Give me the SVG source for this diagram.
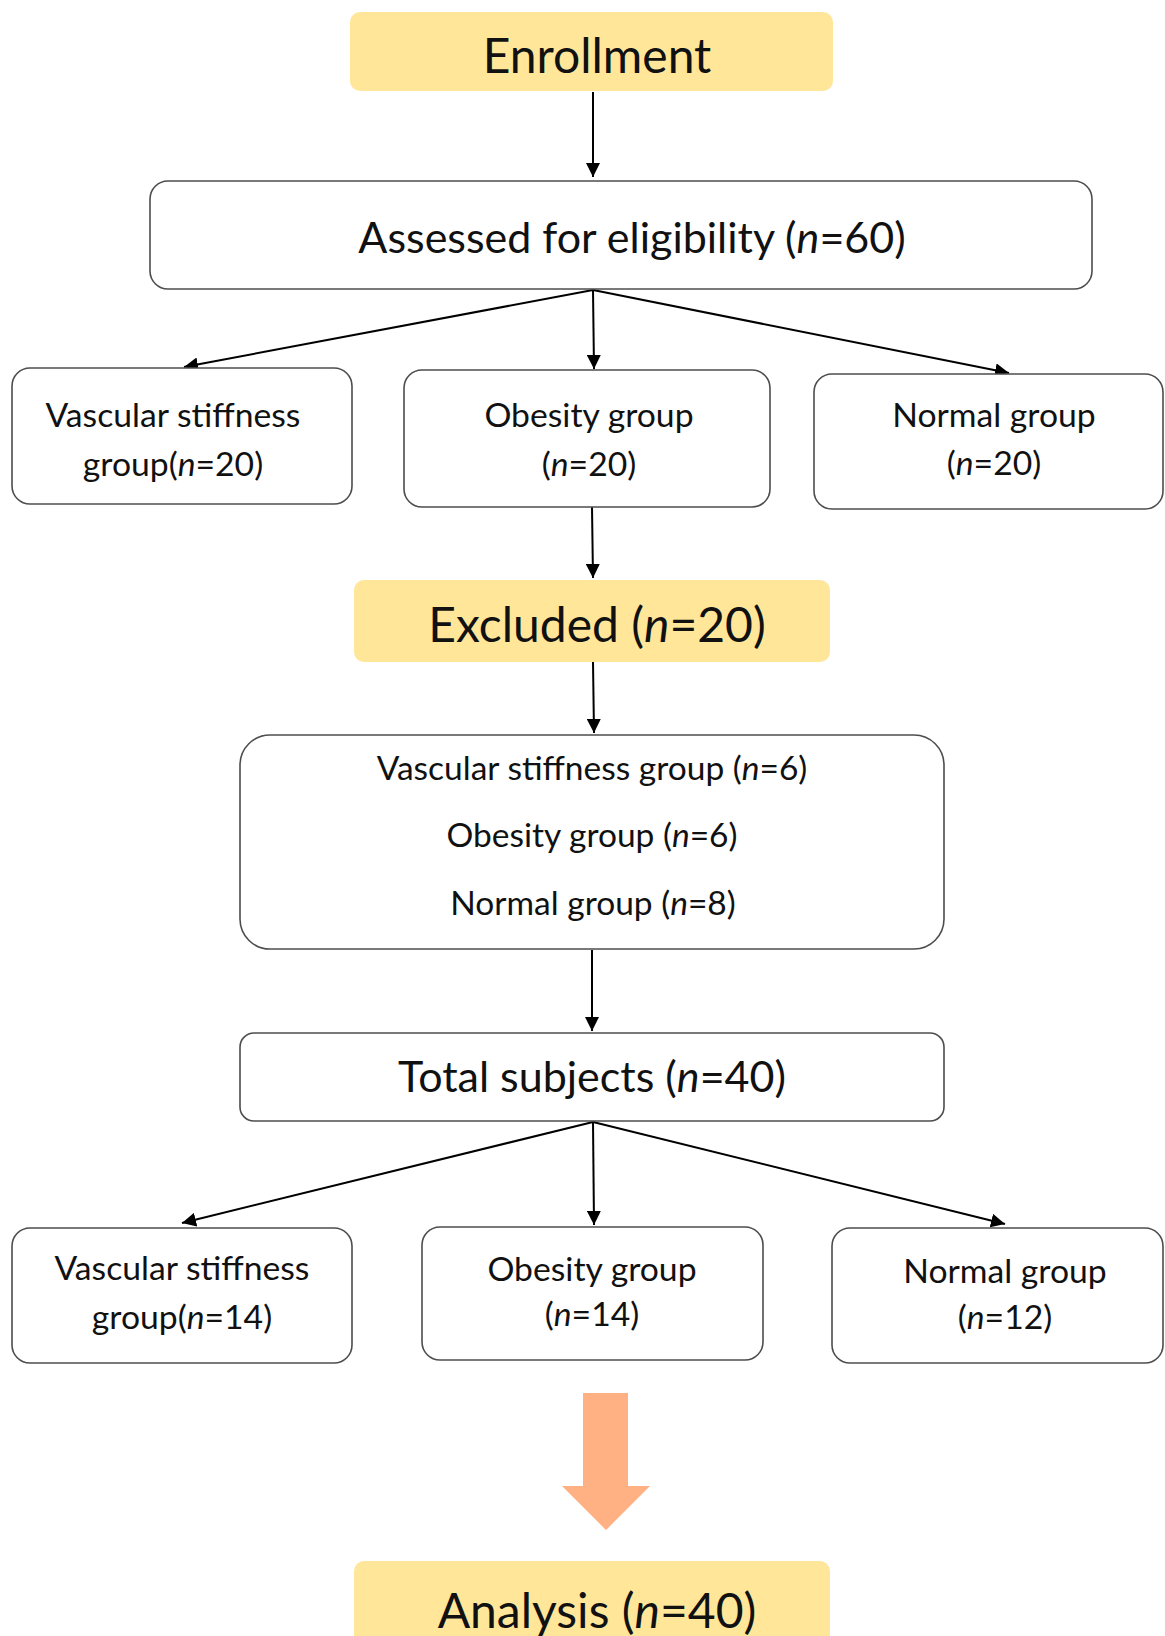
<svg xmlns="http://www.w3.org/2000/svg" width="1165" height="1636" viewBox="0 0 1165 1636">
<defs>
<style>
.box{fill:#fff;stroke:#4d4d4d;stroke-width:1.6}
.hl{fill:#FFE699;stroke:none}
text{font-family:Lato,"Liberation Sans",sans-serif;fill:#111;text-anchor:middle}
.big{font-size:48px}
.mid{font-size:43px}
.sm{font-size:33.7px}
.xs{font-size:33.5px}
.i{font-style:italic}
.con{stroke:#000;stroke-width:2;fill:none;marker-end:url(#ah)}
</style>
<marker id="ah" viewBox="0 0 14 14" refX="14" refY="7" markerWidth="14" markerHeight="14" markerUnits="userSpaceOnUse" orient="auto">
<path d="M0,0 L14,7 L0,14 Z" fill="#000"/>
</marker>
</defs>
<rect width="1165" height="1636" fill="#fff"/>
<g id="connectors">
<line class="con" x1="593" y1="92" x2="593" y2="177"/>
<line class="con" x1="593" y1="290" x2="184" y2="367"/>
<line class="con" x1="593" y1="290" x2="594" y2="369"/>
<line class="con" x1="593" y1="290" x2="1009" y2="373"/>
<line class="con" x1="592" y1="507" x2="593" y2="578"/>
<line class="con" x1="593" y1="662" x2="594" y2="733"/>
<line class="con" x1="592" y1="950" x2="592" y2="1031"/>
<line class="con" x1="593" y1="1122" x2="182" y2="1223"/>
<line class="con" x1="593" y1="1122" x2="594" y2="1225"/>
<line class="con" x1="593" y1="1122" x2="1005" y2="1224"/>
<path d="M583,1393 H628 V1486 H650 L606,1530 L562,1486 H583 Z" fill="#FFB183"/>
</g>
<g id="enrollment">
<rect class="hl" x="350" y="12" width="483" height="79" rx="10"/>
<text class="big" x="597" y="73">Enrollment</text>
</g>
<g id="assessed">
<rect class="box" x="150" y="181" width="942" height="108" rx="18"/>
<text class="mid" x="632" y="253">Assessed for eligibility (<tspan class="i">n</tspan>=60)</text>
</g>
<g id="vascular1">
<rect class="box" x="12" y="368" width="340" height="136" rx="18"/>
<text class="sm" x="173" y="427">Vascular stiffness</text>
<text class="sm" x="173" y="476">group(<tspan class="i">n</tspan>=20)</text>
</g>
<g id="obesity1">
<rect class="box" x="404" y="370" width="366" height="137" rx="18"/>
<text class="sm" x="589" y="427">Obesity group</text>
<text class="sm" x="589" y="476">(<tspan class="i">n</tspan>=20)</text>
</g>
<g id="normal1">
<rect class="box" x="814" y="374" width="349" height="135" rx="18"/>
<text class="sm" x="994" y="427">Normal group</text>
<text class="sm" x="994" y="475">(<tspan class="i">n</tspan>=20)</text>
</g>
<g id="excluded">
<rect class="hl" x="354" y="580" width="476" height="82" rx="10"/>
<text class="big" x="597" y="642">Excluded (<tspan class="i">n</tspan>=20)</text>
</g>
<g id="excluded-detail">
<rect class="box" x="240" y="735" width="704" height="214" rx="30"/>
<text class="xs" x="592" y="780">Vascular stiffness group (<tspan class="i">n</tspan>=6)</text>
<text class="xs" x="592" y="847">Obesity group (<tspan class="i">n</tspan>=6)</text>
<text class="xs" x="593" y="915">Normal group (<tspan class="i">n</tspan>=8)</text>
</g>
<g id="total">
<rect class="box" x="240" y="1033" width="704" height="88" rx="14"/>
<text class="mid" x="592" y="1092">Total subjects (<tspan class="i">n</tspan>=40)</text>
</g>
<g id="vascular2">
<rect class="box" x="12" y="1228" width="340" height="135" rx="18"/>
<text class="sm" x="182" y="1280">Vascular stiffness</text>
<text class="sm" x="182" y="1329">group(<tspan class="i">n</tspan>=14)</text>
</g>
<g id="obesity2">
<rect class="box" x="422" y="1227" width="341" height="133" rx="18"/>
<text class="sm" x="592" y="1281">Obesity group</text>
<text class="sm" x="592" y="1326">(<tspan class="i">n</tspan>=14)</text>
</g>
<g id="normal2">
<rect class="box" x="832" y="1228" width="331" height="135" rx="18"/>
<text class="sm" x="1005" y="1283">Normal group</text>
<text class="sm" x="1005" y="1329">(<tspan class="i">n</tspan>=12)</text>
</g>
<g id="analysis">
<rect class="hl" x="354" y="1561" width="476" height="95" rx="10"/>
<text class="big" x="597" y="1628">Analysis (<tspan class="i">n</tspan>=40)</text>
</g>
</svg>
